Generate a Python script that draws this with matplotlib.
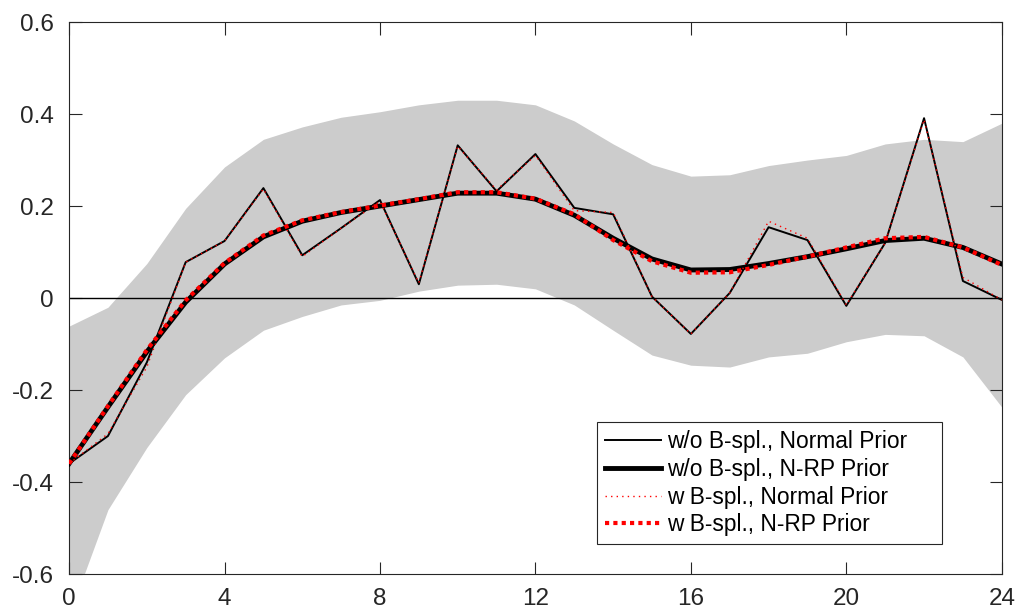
import matplotlib
matplotlib.use("Agg")
import matplotlib.pyplot as plt
from matplotlib.patches import Rectangle
import numpy as np

plt.rcParams['font.family'] = ['Liberation Sans', 'DejaVu Sans']

h = np.arange(0, 25)

# posterior band
band_lo = [-0.69, -0.46, -0.325, -0.21, -0.13, -0.07, -0.04, -0.015, -0.005, 0.015,
           0.028, 0.03, 0.02, -0.015, -0.07, -0.124, -0.146, -0.15, -0.128, -0.12,
           -0.095, -0.079, -0.082, -0.128, -0.237]
band_hi = [-0.061, -0.02, 0.075, 0.195, 0.285, 0.345, 0.372, 0.393, 0.405, 0.42,
           0.43, 0.43, 0.42, 0.385, 0.335, 0.29, 0.265, 0.268, 0.288, 0.3,
           0.31, 0.335, 0.345, 0.34, 0.38]

# w/o B-spl.
normal_raw = [-0.36, -0.30, -0.14, 0.078, 0.124, 0.239, 0.093, 0.152, 0.213, 0.030,
              0.332, 0.232, 0.313, 0.196, 0.182, 0.003, -0.078, 0.011, 0.154, 0.126,
              -0.017, 0.12, 0.391, 0.037, -0.004]
nrp_raw = [-0.36, -0.237, -0.117, -0.009, 0.074, 0.133, 0.167, 0.186, 0.2, 0.214,
           0.228, 0.228, 0.215, 0.18, 0.13, 0.085, 0.061, 0.062, 0.075, 0.09,
           0.107, 0.125, 0.13, 0.11, 0.074]

# w B-spl.
normal_bs = [-0.36, -0.295, -0.15, 0.078, 0.124, 0.237, 0.09, 0.152, 0.21, 0.033,
             0.33, 0.235, 0.31, 0.19, 0.186, 0.003, -0.078, 0.011, 0.167, 0.13,
             -0.015, 0.12, 0.388, 0.045, -0.004]
nrp_bs = [-0.36, -0.235, -0.113, -0.005, 0.076, 0.136, 0.169, 0.187, 0.201, 0.215,
          0.23, 0.23, 0.216, 0.182, 0.126, 0.08, 0.055, 0.056, 0.072, 0.09,
          0.11, 0.13, 0.133, 0.11, 0.072]

fig = plt.figure(figsize=(10.16, 6.12), dpi=100)
ax = fig.add_axes([0.068, 0.062, 0.918, 0.902])

ax.fill_between(h, band_lo, band_hi, color='#cccccc', linewidth=0, zorder=1)
ax.axhline(0, color='black', linewidth=1.0, zorder=2)

ax.plot(h, normal_raw, color='black', linewidth=1.4, label='w/o B-spl., Normal Prior', zorder=3)
ax.plot(h, nrp_raw, color='black', linewidth=3.5, label='w/o B-spl., N-RP Prior', zorder=3)
ax.plot(h, normal_bs, color='red', linewidth=1.0, linestyle=(0, (1, 3)),
        label='w B-spl., Normal Prior', zorder=4)
ax.plot(h, nrp_bs, color='red', linewidth=3.0, linestyle=(0, (1, 1)),
        label='w B-spl., N-RP Prior', zorder=4)

ax.set_xlim(0, 24)
ax.set_ylim(-0.6, 0.6)
ax.set_xticks(np.arange(0, 25, 4))
ax.set_yticks([-0.6, -0.4, -0.2, 0, 0.2, 0.4, 0.6])
ax.set_yticklabels(['-0.6', '-0.4', '-0.2', '0', '0.2', '0.4', '0.6'])

ax.tick_params(direction='in', top=True, right=True, length=9, width=0.8,
               labelsize=17.5, colors='#262626')
ax.tick_params(axis='y', pad=11)
ax.tick_params(axis='x', pad=10)
for s in ax.spines.values():
    s.set_color('#262626')
    s.set_linewidth(0.8)

# legend box is wider than its contents, so draw the frame separately
ax.add_patch(Rectangle((0.566, 0.0543), 0.3697, 0.2211, transform=ax.transAxes,
                       facecolor='white', edgecolor='#262626', linewidth=0.8, zorder=5))
leg = ax.legend(loc='lower left', bbox_to_anchor=(0.566, 0.0543), borderaxespad=0,
                fontsize=16.4, frameon=False, handlelength=2.45, labelspacing=0.2,
                handletextpad=0.28, borderpad=0.35)
leg.set_zorder(6)

fig.savefig('out.png', dpi=100)
